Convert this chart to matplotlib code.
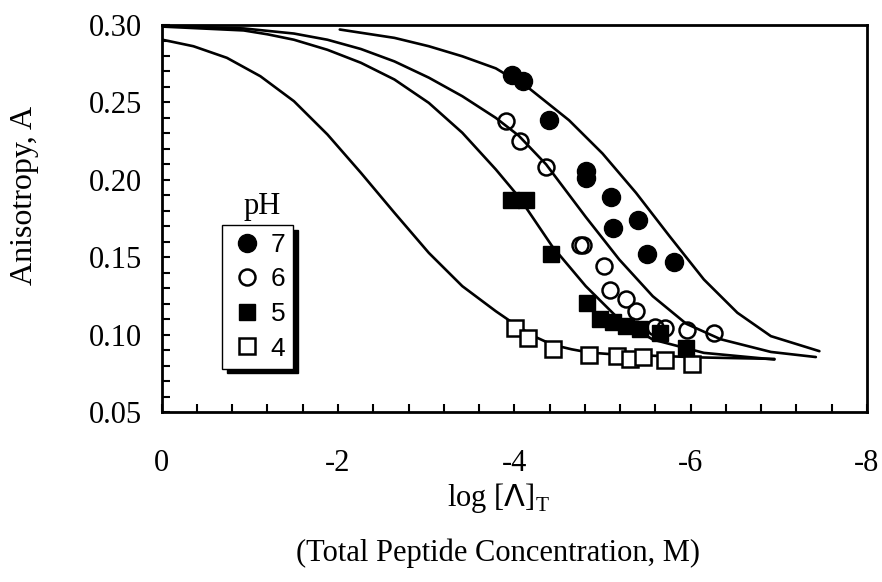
import matplotlib
matplotlib.use("Agg")
import matplotlib.pyplot as plt
from matplotlib.lines import Line2D
from matplotlib.ticker import MultipleLocator

plt.rcParams['font.family'] = ['Liberation Serif', 'DejaVu Serif']
plt.rcParams['axes.unicode_minus'] = False

# measured points, x = log [peptide], y = anisotropy
ph7_x = [-3.97, -4.10, -4.39, -4.81, -4.81, -5.10, -5.12, -5.40, -5.51, -5.81]
ph7_y = [0.268, 0.264, 0.2385, 0.206, 0.201, 0.189, 0.169, 0.174, 0.152, 0.147]

ph6_x = [-3.91, -4.06, -4.36, -4.74, -4.78, -5.02, -5.08, -5.27, -5.38, -5.59, -5.71, -5.96, -6.26]
ph6_y = [0.238, 0.225, 0.208, 0.158, 0.158, 0.144, 0.129, 0.123, 0.115, 0.105, 0.104, 0.103, 0.101]

ph5_x = [-3.96, -4.13, -4.42, -4.82, -4.97, -5.12, -5.27, -5.42, -5.65, -5.95]
ph5_y = [0.187, 0.187, 0.152, 0.1205, 0.110, 0.108, 0.1054, 0.1033, 0.101, 0.0915]

ph4_x = [-4.01, -4.15, -4.44, -4.85, -5.16, -5.31, -5.46, -5.71, -6.01]
ph4_y = [0.1044, 0.0979, 0.0910, 0.0865, 0.0861, 0.0844, 0.0857, 0.0839, 0.0807]

# fitted curves
fit7_x = [-2.02, -2.64, -3.03, -3.41, -3.79, -4.17, -4.62, -5.00, -5.38, -5.76, -6.15, -6.53, -6.91, -7.46]
fit7_y = [0.2971, 0.2917, 0.2863, 0.2798, 0.2720, 0.2590, 0.2385, 0.2170, 0.1916, 0.1636, 0.1356, 0.1141, 0.0990, 0.0893]

fit6_x = [0.0, -0.93, -1.50, -1.88, -2.26, -2.64, -3.03, -3.41, -3.79, -4.05, -4.36, -4.81, -5.19, -5.57, -5.95, -6.34, -6.91, -7.42]
fit6_y = [0.2995, 0.2978, 0.2945, 0.2905, 0.2845, 0.2765, 0.2660, 0.2540, 0.2400, 0.2285, 0.2100, 0.1760, 0.1485, 0.1248, 0.1070, 0.0970, 0.0888, 0.0855]

fit5_x = [0.0, -0.93, -1.20, -1.50, -1.88, -2.26, -2.64, -3.03, -3.41, -3.79, -4.05, -4.43, -4.81, -5.19, -5.57, -6.15, -6.95]
fit5_y = [0.2990, 0.2965, 0.2940, 0.2905, 0.2840, 0.2756, 0.2648, 0.2497, 0.2304, 0.2067, 0.1890, 0.1570, 0.1313, 0.1098, 0.0968, 0.0882, 0.0839]

fit4_x = [0.0, -0.36, -0.74, -1.12, -1.50, -1.88, -2.26, -2.64, -3.03, -3.41, -3.79, -4.01, -4.20, -4.43, -4.65, -4.85, -5.16, -5.70, -6.15, -6.95]
fit4_y = [0.2906, 0.2863, 0.2788, 0.2669, 0.2508, 0.2293, 0.2045, 0.1787, 0.1528, 0.1313, 0.1151, 0.1065, 0.0995, 0.0935, 0.0905, 0.0884, 0.0871, 0.0861, 0.0852, 0.0843]

ph_labels = ['7', '6', '5', '4']

fig = plt.figure(figsize=(8.82, 5.82), dpi=100)
ax = fig.add_axes([0.1833, 0.2921, 0.7997, 0.6649])

for fx, fy in [(fit7_x, fit7_y), (fit6_x, fit6_y), (fit5_x, fit5_y), (fit4_x, fit4_y)]:
    ax.plot(fx, fy, color='black', lw=1.9, solid_joinstyle='round', solid_capstyle='round')

ax.plot(ph4_x, ph4_y, 's', ms=11, mfc='white', mec='black', mew=1.8, ls='none')
ax.plot(ph5_x, ph5_y, 's', ms=12, mfc='black', mec='black', ls='none')
ax.plot(ph6_x, ph6_y, 'o', ms=11.5, mfc='none', mec='black', mew=1.8, ls='none')
ax.plot(ph7_x, ph7_y, 'o', ms=13, mfc='black', mec='black', ls='none')

ax.set_xlim(0, -8)
ax.set_ylim(0.05, 0.30)
ax.xaxis.set_major_locator(MultipleLocator(2))
ax.xaxis.set_minor_locator(MultipleLocator(0.4))
ax.yaxis.set_major_locator(MultipleLocator(0.05))
ax.yaxis.set_minor_locator(MultipleLocator(0.01))
ax.yaxis.set_major_formatter(plt.FormatStrFormatter('%.2f'))
ax.xaxis.set_major_formatter(plt.FormatStrFormatter('%d'))
ax.tick_params(which='both', direction='in', length=6, width=1.5, top=False, right=False)
ax.tick_params(axis='x', which='major', pad=27, labelsize=22)
ax.tick_params(axis='y', which='major', pad=14, labelsize=22)
for sp in ax.spines.values():
    sp.set_linewidth(2)

fig.text(25 / 882, 1 - 195 / 582, 'Anisotropy, A', rotation=90, ha='center', va='center', fontsize=23)
fig.text(0.565, 0.145, r'log [$\Lambda$]$_\mathregular{T}$', ha='center', va='center', fontsize=22)
fig.text(0.565, 0.05, '(Total Peptide Concentration, M)', ha='center', va='center', fontsize=22)

handles = [
    Line2D([], [], marker='o', ls='none', ms=13, mfc='black', mec='black'),
    Line2D([], [], marker='o', ls='none', ms=11.5, mfc='none', mec='black', mew=1.8),
    Line2D([], [], marker='s', ls='none', ms=12, mfc='black', mec='black'),
    Line2D([], [], marker='s', ls='none', ms=11, mfc='white', mec='black', mew=1.8),
]
leg = ax.legend(handles, ph_labels, loc='upper left', bbox_to_anchor=(0.2514, 0.6134),
                bbox_transform=fig.transFigure, borderaxespad=0, frameon=True, fancybox=False,
                shadow={'ox': 3.5, 'oy': -3.5, 'color': 'black', 'alpha': 1},
                edgecolor='black', framealpha=1, handlelength=1.3, handletextpad=0.25,
                labelspacing=0.4, borderpad=0.3, prop={'family': 'Liberation Sans', 'size': 19})
leg.get_frame().set_linewidth(1.0)
fig.text(0.2967, 0.645, 'pH', ha='center', va='center', fontsize=22)

fig.savefig('out.png', dpi=100)
